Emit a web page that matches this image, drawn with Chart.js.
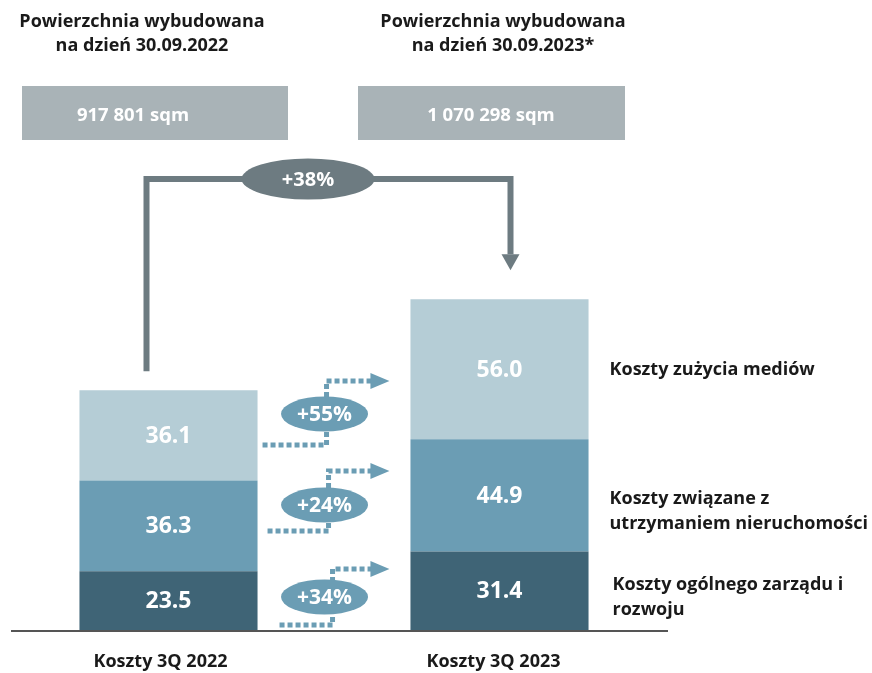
<!DOCTYPE html>
<html><head><meta charset="utf-8">
<script src="https://cdn.jsdelivr.net/npm/chart.js@4.4.1/dist/chart.umd.min.js"></script>
<style>html,body{margin:0;padding:0;background:#fff}</style>
</head><body>
<canvas id="c" width="872" height="673"></canvas>
<script>
// dane
const categories=['Koszty 3Q 2022','Koszty 3Q 2023'];
const mgmtCosts=[23.5,31.4];      // Koszty ogólnego zarządu i rozwoju
const propertyCosts=[36.3,44.9];  // Koszty związane z utrzymaniem nieruchomości
const utilityCosts=[36.1,56.0];   // Koszty zużycia mediów
const seriesLabels=[['Koszty ogólnego zarządu i','rozwoju'],['Koszty związane z','utrzymaniem nieruchomości'],['Koszty zużycia mediów']];
const growthLabels=['+34%','+24%','+55%'];
const totalGrowth='+38%';
const areaTitles=[['Powierzchnia wybudowana','na dzień 30.09.2022'],['Powierzchnia wybudowana','na dzień 30.09.2023*']];
const areaValues=['917 801 sqm','1 070 298 sqm'];

const COLORS=['#3f6476','#6b9db4','#b5cdd6'];
const GREY='#6d7b81', BOX='#a9b3b7', TXT='#1a1a1a';
const F="'Open Sans', sans-serif";
// poziomy strzałek (w jednostkach osi y): start przy słupku 1, koniec przy słupku 2, środek elipsy
const arrowFrom=[2,39.6,74], arrowTo=[24.4,63.6,99.6], pillAt=[13.2,50,86.4];
const legendDy=[[-6,19],[3,28],[1]];

function txt(ctx,s,x,y,font,color,align){
  ctx.font=font;ctx.fillStyle=color;ctx.textAlign=align||'center';ctx.textBaseline='middle';ctx.fillText(s,x,y);
}
function ellipse(ctx,cx,cy,w,h,color){
  ctx.beginPath();ctx.ellipse(cx,cy,w/2,h/2,0,0,Math.PI*2);ctx.fillStyle=color;ctx.fill();
}

const overlay={id:'overlay',afterDatasetsDraw(chart){
  const {ctx,scales:{x,y}}=chart;
  const b1=chart.getDatasetMeta(0).data[0], b2=chart.getDatasetMeta(0).data[1];
  const w=b1.width, r1=b1.x+w/2, l2=b2.x-w/2, r2=b2.x+w/2;
  ctx.save();
  // linia bazowa
  ctx.strokeStyle='#555';ctx.lineWidth=2;
  ctx.beginPath();ctx.moveTo(11,y.getPixelForValue(0)+1);ctx.lineTo(668,y.getPixelForValue(0)+1);ctx.stroke();

  // wartości w segmentach
  chart.data.datasets.forEach((ds,i)=>{
    chart.getDatasetMeta(i).data.forEach((el,j)=>{
      txt(ctx,ds.data[j].toFixed(1),el.x,(el.y+el.base)/2+1,'bold 23px '+F,'#fff');
    });
  });

  // kategorie
  categories.forEach((c,j)=>txt(ctx,c,x.getPixelForValue(j)-8+j*2,662,'bold 18px '+F,TXT));

  // opisy serii po prawej
  seriesLabels.forEach((lines,i)=>{
    const el=chart.getDatasetMeta(i).data[1];
    const cy=(el.y+el.base)/2;
    lines.forEach((s,k)=>txt(ctx,s,r2+21+(i===0?3:0),cy+legendDy[i][k],'bold 18px '+F,TXT,'left'));
  });

  // strzałki przyrostu segmentów
  growthLabels.forEach((g,i)=>{
    const yb=y.getPixelForValue(arrowFrom[i]), yt=y.getPixelForValue(arrowTo[i]);
    const xs=r1+[22,10,5][i], xc=r1+[75,71,69][i], xe=l2-38;
    ctx.save();ctx.strokeStyle=COLORS[1];ctx.lineWidth=5;ctx.setLineDash([5,3]);
    ctx.beginPath();ctx.moveTo(xs,yb);ctx.lineTo(xc,yb);ctx.lineTo(xc,yt);ctx.lineTo(xe,yt);ctx.stroke();
    ctx.restore();
    ctx.fillStyle=COLORS[1];
    ctx.beginPath();ctx.moveTo(xe-2,yt-8);ctx.lineTo(l2-21,yt);ctx.lineTo(xe-2,yt+8);ctx.closePath();ctx.fill();
    const py=y.getPixelForValue(pillAt[i]);
    ellipse(ctx,r1+67,py,87,35,COLORS[1]);
    txt(ctx,g,r1+67,py+1,'bold 21px '+F,'#fff');
  });

  // łącznik +38%
  const topY=179, xa=b1.x-22, xb=b2.x+11;
  const top1=chart.getDatasetMeta(2).data[0].y, top2=chart.getDatasetMeta(2).data[1].y;
  ctx.strokeStyle=GREY;ctx.fillStyle=GREY;ctx.lineWidth=6;ctx.lineCap='butt';
  ctx.beginPath();ctx.moveTo(xa,top1-19);ctx.lineTo(xa,topY);ctx.lineTo(xb,topY);ctx.lineTo(xb,top2-45);ctx.stroke();
  ctx.beginPath();ctx.moveTo(xb-9,top2-45);ctx.lineTo(xb+9,top2-45);ctx.lineTo(xb,top2-29);ctx.closePath();ctx.fill();
  ellipse(ctx,308,179,133,41,GREY);
  txt(ctx,totalGrowth,308,180,'bold 20px '+F,'#fff');

  // nagłówki i szare pola
  const heads=[142,503], boxes=[[22,288,133],[358,625,491]];
  areaTitles.forEach((lines,j)=>{
    lines.forEach((s,k)=>txt(ctx,s,heads[j],22+k*24,'bold 18px '+F,TXT));
    const [bl,br,tc]=boxes[j];
    ctx.fillStyle=BOX;ctx.fillRect(bl,86,br-bl,54);
    txt(ctx,areaValues[j],tc,116,'bold 18.5px '+F,'#fff');
  });
  ctx.restore();
}};

new Chart(document.getElementById('c'),{
  type:'bar',
  data:{labels:categories,datasets:[
    {label:seriesLabels[0].join(' '),data:mgmtCosts,backgroundColor:COLORS[0]},
    {label:seriesLabels[1].join(' '),data:propertyCosts,backgroundColor:COLORS[1]},
    {label:seriesLabels[2].join(' '),data:utilityCosts,backgroundColor:COLORS[2]}
  ]},
  options:{
    responsive:false,animation:false,
    datasets:{bar:{barPercentage:0.538,categoryPercentage:1,borderWidth:0}},
    layout:{padding:{left:3,right:207,top:0,bottom:43}},
    plugins:{legend:{display:false},tooltip:{enabled:false}},
    scales:{
      x:{stacked:true,display:false},
      y:{stacked:true,display:false,min:0,max:252}
    }
  },
  plugins:[overlay]
});
</script>
</body></html>
